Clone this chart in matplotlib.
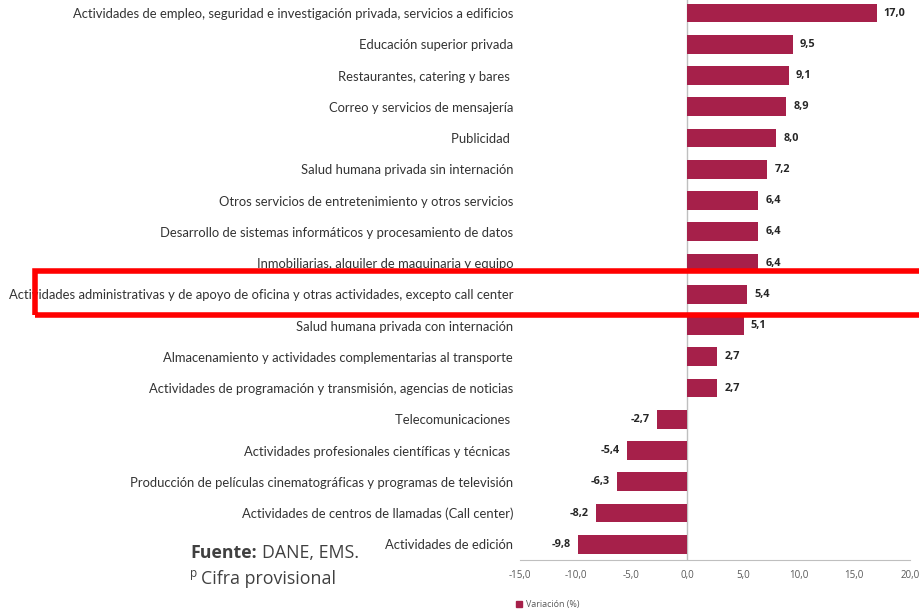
import matplotlib
matplotlib.use("Agg")
import matplotlib.pyplot as plt
from matplotlib.patches import Rectangle

categories = [
    "Actividades de empleo, seguridad e investigación privada, servicios a edificios",
    "Educación superior privada",
    "Restaurantes, catering y bares ",
    "Correo y servicios de mensajería",
    "Publicidad ",
    "Salud humana privada sin internación",
    "Otros servicios de entretenimiento y otros servicios",
    "Desarrollo de sistemas informáticos y procesamiento de datos",
    "Inmobiliarias, alquiler de maquinaria y equipo",
    "Actividades administrativas y de apoyo de oficina y otras actividades, excepto call center",
    "Salud humana privada con internación",
    "Almacenamiento y actividades complementarias al transporte",
    "Actividades de programación y transmisión, agencias de noticias",
    "Telecomunicaciones ",
    "Actividades profesionales científicas y técnicas ",
    "Producción de películas cinematográficas y programas de televisión",
    "Actividades de centros de llamadas (Call center)",
    "Actividades de edición",
]
values = [17.0, 9.5, 9.1, 8.9, 8.0, 7.2, 6.4, 6.4, 6.4, 5.4, 5.1, 2.7, 2.7,
          -2.7, -5.4, -6.3, -8.2, -9.8]
xticks = [-15, -10, -5, 0, 5, 10, 15, 20]
series_name = "Variación (%)"

W, H = 919, 612
fig = plt.figure(figsize=(W / 100, H / 100), dpi=100)
ax = fig.add_axes([520 / W, (H - 560) / H, (910 - 520) / W, 562.6 / H])

bar_color = "#A6204A"
ypos = list(range(len(categories)))
ax.barh(ypos, values, height=0.6, color=bar_color, zorder=3)
ax.set_ylim(len(categories) - 0.5, -0.5)
ax.set_xlim(-15, 20)
ax.axvline(0, color="#BFBFBF", lw=1, zorder=2)

ax.set_yticks(ypos)
ax.set_yticklabels(categories, family="Lato", fontsize=9.35, color="#333333")
ax.tick_params(axis="y", length=0, pad=5)
ax.set_xticks(xticks)
ax.set_xticklabels([f"{t:.1f}".replace(".", ",") for t in xticks],
                   family="Open Sans", fontsize=7, color="#595959")
ax.tick_params(axis="x", length=0, pad=7)
for s in ["top", "right", "left"]:
    ax.spines[s].set_visible(False)
ax.spines["bottom"].set_color("#BFBFBF")

for y, v in zip(ypos, values):
    lbl = f"{v:.1f}".replace(".", ",")
    if v >= 0:
        ax.annotate(lbl, (v, y), xytext=(5, 0), textcoords="offset points",
                    ha="left", va="center", fontsize=7.8, fontweight="bold",
                    family="Open Sans", color="#262626")
    else:
        ax.annotate(lbl, (v, y), xytext=(-5, 0), textcoords="offset points",
                    ha="right", va="center", fontsize=7.8, fontweight="bold",
                    family="Open Sans", color="#262626")

# highlight rectangle
fig.patches.append(Rectangle((35 / W, (H - 315) / H), 1.0, 44 / H,
                             transform=fig.transFigure, fill=False,
                             edgecolor="#FF0000", lw=4, zorder=10))

# legend
fig.patches.append(Rectangle((516 / W, (H - 607) / H), 6 / W, 6 / H,
                             transform=fig.transFigure, color=bar_color))
fig.text(526 / W, (H - 604) / H, series_name, family="Open Sans", fontsize=6.4,
         color="#595959", va="center", ha="left")

# source notes
t1 = fig.text(190 / W, (H - 553) / H, "Fuente:", family="Open Sans",
              fontsize=12.8, fontweight="bold", color="#404040",
              va="center", ha="left")
fig.canvas.draw()
bb = t1.get_window_extent(renderer=fig.canvas.get_renderer())
fig.text((bb.x1 + 5) / W, (H - 553) / H, "DANE, EMS.", family="Open Sans",
         fontsize=12.8, color="#404040", va="center", ha="left")
fig.text(190 / W, (H - 574) / H, "p", family="Open Sans", fontsize=8.5,
         color="#404040", va="center", ha="left")
fig.text(201 / W, (H - 579) / H, "Cifra provisional", family="Open Sans",
         fontsize=12.8, color="#404040", va="center", ha="left")

fig.savefig("out.png", dpi=100, facecolor="white")
